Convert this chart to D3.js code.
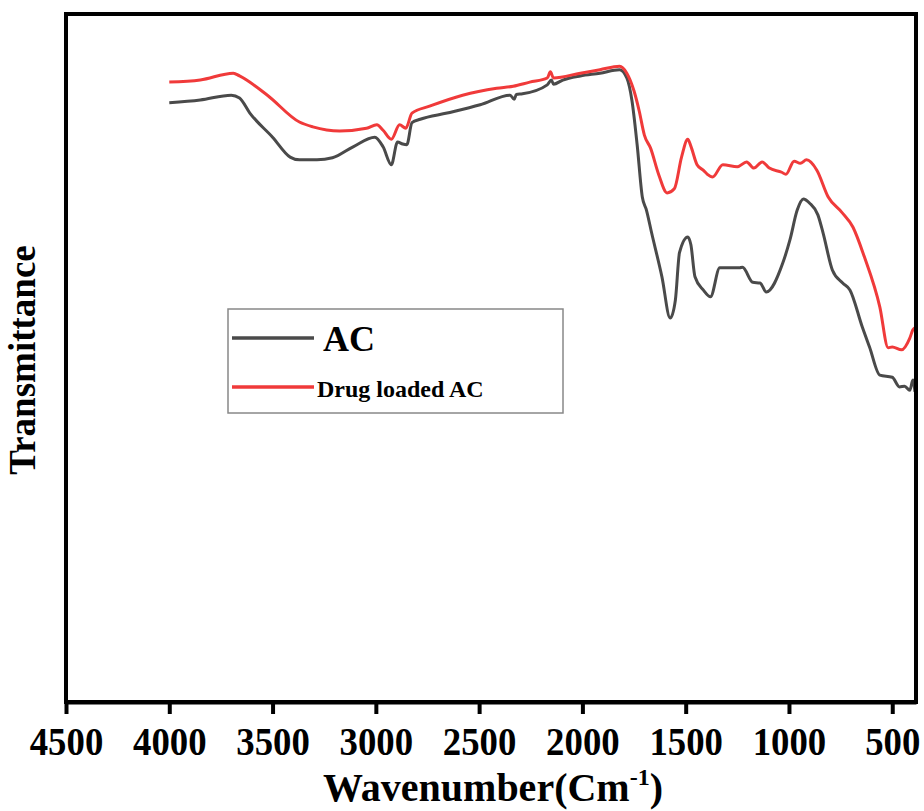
<!DOCTYPE html>
<html>
<head>
<meta charset="utf-8">
<script src="https://cdn.jsdelivr.net/npm/d3@7"></script>
<style>
  html, body { margin: 0; padding: 0; background: #fff; }
  svg { display: block; }
  text { font-family: "Liberation Serif", "Times New Roman", serif; font-weight: bold; fill: #000; }
</style>
</head>
<body>
<svg id="chart" width="924" height="811"></svg>
<script>
// ---- data ----
const xTicks = [4500, 4000, 3500, 3000, 2500, 2000, 1500, 1000, 500];
const seriesNames = ["AC", "Drug loaded AC"];
const seriesColors = ["#4a4a4a", "#f03a3a"];

const acWavenumber = [4000, 3850, 3700, 3660, 3610, 3500, 3415, 3370, 3285, 3210, 3110, 3005, 2965, 2925, 2895, 2870, 2850, 2825, 2785, 2655, 2495, 2350, 2330, 2320, 2290, 2170, 2150, 2140, 2095, 2010, 1915, 1820, 1785, 1760, 1735, 1710, 1690, 1665, 1615, 1575, 1550, 1530, 1490, 1475, 1455, 1415, 1380, 1335, 1240, 1225, 1175, 1140, 1110, 1030, 995, 960, 930, 900, 860, 835, 790, 740, 705, 645, 610, 560, 500, 465, 440, 415, 400, 390];
const acT = [87.1, 87.5, 88.2, 87.8, 85.6, 82.1, 79.2, 78.8, 78.8, 79.1, 80.7, 82.1, 80.7, 78.1, 81.4, 81.1, 81.0, 84.2, 84.7, 85.6, 86.8, 88.2, 87.6, 88.3, 88.4, 89.7, 90.4, 89.8, 90.4, 91.0, 91.4, 91.9, 90.7, 87.4, 81.0, 73.4, 71.5, 68.2, 61.8, 55.8, 58.4, 65.3, 67.6, 66.5, 61.8, 59.9, 58.9, 63.1, 63.1, 63.2, 61.0, 60.9, 59.6, 63.8, 67.2, 71.5, 73.1, 72.5, 70.8, 68.2, 62.8, 60.9, 59.9, 54.5, 51.6, 47.5, 47.2, 45.8, 45.9, 45.3, 46.8, 45.1];

const drugWavenumber = [4000, 3850, 3690, 3660, 3525, 3370, 3305, 3175, 3045, 2995, 2965, 2925, 2885, 2855, 2825, 2740, 2580, 2415, 2335, 2255, 2170, 2155, 2140, 2010, 1915, 1820, 1785, 1750, 1725, 1700, 1670, 1630, 1590, 1555, 1520, 1490, 1475, 1445, 1415, 1395, 1370, 1320, 1250, 1205, 1170, 1130, 1095, 1035, 1015, 975, 945, 915, 865, 810, 745, 690, 635, 560, 520, 500, 455, 415, 400, 385];
const drugT = [90.1, 90.4, 91.4, 91.0, 88.2, 84.3, 83.6, 83.0, 83.4, 83.9, 83.1, 81.8, 83.9, 83.4, 85.6, 86.6, 88.2, 89.2, 89.5, 90.1, 90.7, 91.6, 90.7, 91.4, 91.9, 92.4, 91.4, 88.8, 85.9, 82.4, 80.5, 76.6, 74.0, 74.6, 79.2, 81.8, 80.8, 78.1, 77.3, 76.7, 76.3, 78.1, 77.8, 78.5, 77.6, 78.5, 77.6, 77.0, 76.7, 78.6, 78.3, 78.8, 77.3, 73.4, 71.2, 69.0, 64.7, 57.4, 51.5, 51.6, 51.2, 52.9, 54.1, 54.5];

// ---- layout ----
const svg = d3.select("#chart");
const plot = { left: 66, right: 916, top: 14, bottom: 702 };

const x = d3.scaleLinear().domain([4500, 385]).range([plot.left, plot.right]);
const y = d3.scaleLinear().domain([0, 100]).range([plot.bottom, plot.top]);

svg.append("defs").append("clipPath").attr("id", "clip")
  .append("rect")
  .attr("x", plot.left).attr("y", plot.top)
  .attr("width", plot.right - plot.left).attr("height", plot.bottom - plot.top);

const series = [
  { name: seriesNames[0], color: seriesColors[0], data: acWavenumber.map((w, i) => [w, acT[i]]) },
  { name: seriesNames[1], color: seriesColors[1], data: drugWavenumber.map((w, i) => [w, drugT[i]]) }
];

const line = d3.line()
  .x(d => x(d[0]))
  .y(d => y(d[1]))
  .curve(d3.curveMonotoneX);

svg.append("g").attr("clip-path", "url(#clip)")
  .selectAll("path")
  .data(series)
  .join("path")
  .attr("d", d => line(d.data))
  .attr("fill", "none")
  .attr("stroke", d => d.color)
  .attr("stroke-width", 3)
  .attr("stroke-linejoin", "round");

// frame
svg.append("rect")
  .attr("x", plot.left).attr("y", plot.top)
  .attr("width", plot.right - plot.left).attr("height", plot.bottom - plot.top)
  .attr("fill", "none").attr("stroke", "#000").attr("stroke-width", 4);

// x axis
const xAxis = d3.axisBottom(x).tickValues(xTicks).tickFormat(d3.format("d"))
  .tickSize(12).tickPadding(14).tickSizeOuter(0);
const gx = svg.append("g").attr("transform", `translate(0,${plot.bottom})`).call(xAxis);
gx.select(".domain").attr("stroke", "#000").attr("stroke-width", 4);
gx.selectAll(".tick line").attr("stroke", "#000").attr("stroke-width", 4);
gx.selectAll(".tick text")
  .attr("font-family", "'Liberation Serif', serif")
  .attr("font-weight", "bold")
  .attr("font-size", 40)
  .attr("fill", "#000")
  .attr("dy", "0")
  .attr("y", 53)
  .attr("transform", "scale(0.92,1)");

// x title
const xt = svg.append("text")
  .attr("x", 493).attr("y", 801)
  .attr("text-anchor", "middle")
  .attr("font-size", 40);
xt.append("tspan").text("Wavenumber(Cm");
xt.append("tspan").attr("font-size", 24).attr("dy", -16).text("-1");
xt.append("tspan").attr("dy", 16).text(")");

// y title
svg.append("text")
  .attr("transform", "translate(35,360) rotate(-90)")
  .attr("text-anchor", "middle")
  .attr("font-size", 37)
  .text("Transmittance");

// legend
const lg = svg.append("g");
lg.append("rect")
  .attr("x", 228).attr("y", 309).attr("width", 335).attr("height", 104)
  .attr("fill", "#fff").attr("stroke", "#888").attr("stroke-width", 1.5);
const legendItems = [
  { y: 338, tx: 323, ty: 351, size: 36 },
  { y: 387, tx: 317, ty: 397, size: 24 }
];
series.forEach((s, i) => {
  const it = legendItems[i];
  lg.append("line")
    .attr("x1", 232).attr("x2", 314).attr("y1", it.y).attr("y2", it.y)
    .attr("stroke", s.color).attr("stroke-width", 3.5);
  lg.append("text")
    .attr("x", it.tx).attr("y", it.ty)
    .attr("font-size", it.size)
    .text(s.name);
});
</script>
</body>
</html>
